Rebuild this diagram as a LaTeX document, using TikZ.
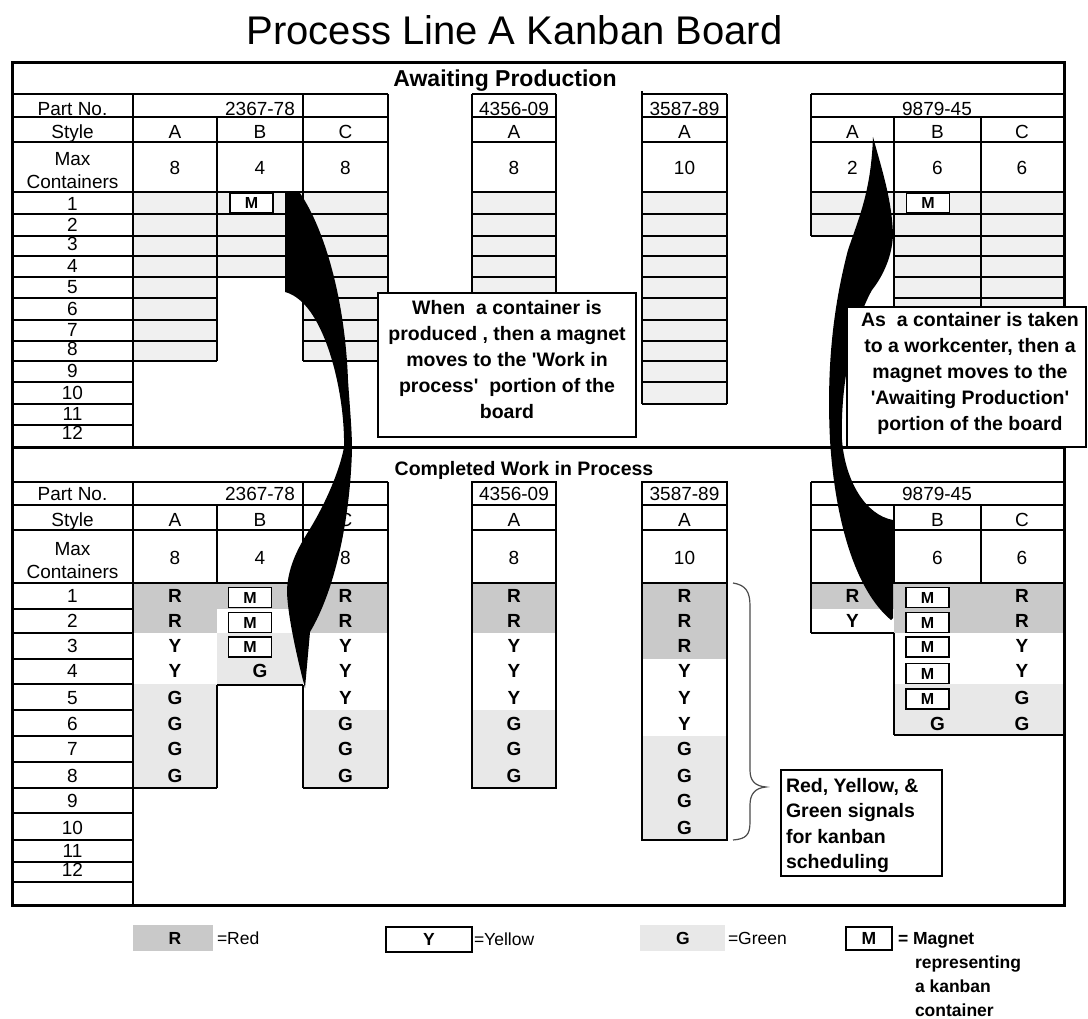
\documentclass[tikz,border=0pt]{standalone}
\usepackage{fontspec}
\setmainfont{Liberation Sans}
\definecolor{redsig}{gray}{0.79}
\definecolor{greensig}{gray}{0.91}
\definecolor{topcell}{gray}{0.94}
\newcommand\myfs[1]{\fontsize{#1}{#1}\selectfont}
\begin{document}
\begin{tikzpicture}[x=1pt,y=-1pt,
  every node/.style={inner sep=0pt,outer sep=0pt},
  lbl/.style={font=\myfs{19}, text height=13.6pt, text depth=0pt},
  sig/.style={font=\bfseries\myfs{19}, text height=13.6pt, text depth=0pt},
  mag/.style={draw,line width=1.6pt,fill=white,minimum width=43pt,minimum height=20pt,font=\bfseries\myfs{16},text height=11.4pt,text depth=0pt},
  gridl/.style={line width=1.3pt},
  framel/.style={line width=3pt},
  notebox/.style={draw,line width=1.5pt,fill=white},
  notetext/.style={font=\bfseries\fontsize{19.5}{26}\selectfont, align=center},
  legtext/.style={font=\myfs{17.5}, anchor=west, text height=12.5pt, text depth=0pt},
  legbold/.style={font=\bfseries\myfs{17.5}, anchor=west, text height=12.5pt, text depth=0pt},
  bigarrow/.style={fill=black},
  bracel/.style={line width=1.2pt, black!70},
]
\useasboundingbox (0,0) rectangle (1088,1019);

% ---------- title
\node[font=\myfs{40}, text height=28.6pt, text depth=0pt] (title) at (514.5,30) {Process Line A Kanban Board};

% ---------- fills: top section
\fill[topcell] (133,192) rectangle (217,361);
\fill[topcell] (217,192) rectangle (303,277);
\fill[topcell] (303,192) rectangle (388,361);
\fill[topcell] (472,192) rectangle (556,361);
\fill[topcell] (642,192) rectangle (727,404);
\fill[topcell] (811,192) rectangle (894,236);
\fill[topcell] (894,192) rectangle (1063,320);

% ---------- fills: bottom section
\fill[redsig] (133,583) rectangle (217,633);
\fill[greensig] (133,684) rectangle (217,788);
\fill[redsig] (217,583) rectangle (303,609);
\fill[greensig] (217,633) rectangle (303,685);
\fill[redsig] (303,583) rectangle (388,633);
\fill[greensig] (303,710) rectangle (388,788);
\fill[redsig] (472,583) rectangle (556,633);
\fill[greensig] (472,710) rectangle (556,788);
\fill[redsig] (642,583) rectangle (727,659);
\fill[greensig] (642,736) rectangle (727,840);
\fill[redsig] (811,583) rectangle (894,609);
\fill[redsig] (894,583) rectangle (1063,633);
\fill[greensig] (894,684) rectangle (1063,735);

% ---------- grid: top section
\foreach \y in {94,117,142,192,214,236,256,277,298,320,341,361,382,404,425}
  \draw[gridl] (12,\y) -- (133,\y);
\draw[gridl] (133,94) -- (133,447);
\foreach \y in {94,117,142,192} \draw[gridl] (133,\y) -- (388,\y);
\foreach \y in {214,236,256,277,298,320,341,361} {
  \draw[gridl] (133,\y) -- (217,\y);
  \draw[gridl] (303,\y) -- (388,\y);
}
\foreach \y in {214,236,256,277} \draw[gridl] (217,\y) -- (303,\y);
\draw[gridl] (217,117) -- (217,361) (303,94) -- (303,361) (388,94) -- (388,361);
\foreach \y in {94,117,142,192,214,236,256,277,298,320,341,361}
  \draw[gridl] (472,\y) -- (556,\y);
\draw[gridl] (472,94) -- (472,361) (556,94) -- (556,361);
\foreach \y in {94,117,142,192,214,236,256,277,298,320,341,361,382,404}
  \draw[gridl] (642,\y) -- (727,\y);
\draw[gridl] (642,91) -- (642,404) (727,94) -- (727,404);
\foreach \y in {94,117,142,192,214,236} \draw[gridl] (811,\y) -- (1063,\y);
\foreach \y in {256,277,298,320} \draw[gridl] (894,\y) -- (1063,\y);
\draw[gridl] (811,94) -- (811,236) (894,117) -- (894,320) (981,117) -- (981,320);

% ---------- grid: bottom section
\foreach \y in {482,505,530,583,609,633,659,684,710,736,762,788,813,840,862,882}
  \draw[gridl] (12,\y) -- (133,\y);
\draw[gridl] (133,482) -- (133,905);
\foreach \y in {482,505,530,583} \draw[gridl] (133,\y) -- (388,\y);
\draw[gridl] (133,788) -- (217,788) (217,685) -- (303,685) (303,788) -- (388,788);
\draw[gridl] (217,505) -- (217,583) (217,685) -- (217,788)
  (303,482) -- (303,583) (303,685) -- (303,788) (388,482) -- (388,788);
\draw[gridl] (472,482) rectangle (556,788);
\foreach \y in {505,530,583} \draw[gridl] (472,\y) -- (556,\y);
\draw[gridl] (642,482) rectangle (727,840);
\foreach \y in {505,530,583} \draw[gridl] (642,\y) -- (727,\y);
\foreach \y in {482,505,530,583} \draw[gridl] (811,\y) -- (1063,\y);
\draw[gridl] (811,633) -- (894,633) (894,735) -- (1063,735)
  (811,482) -- (811,633) (894,505) -- (894,583) (894,633) -- (894,735) (981,505) -- (981,583);

% ---------- frame
\draw[framel] (12,63) rectangle (1064,905);
\draw[framel] (12,447) -- (1064,447);

% ---------- section headings
\node[font=\bfseries\myfs{23}, text height=16.5pt, text depth=0pt] (hdrA) at (505,78) {Awaiting Production};
\node[font=\bfseries\myfs{19.5}, text height=14pt, text depth=0pt] (hdrC) at (524,468) {Completed Work in Process};

% ---------- label column, top
\node[lbl] (tPart) at (72.5,108.5) {Part No.};
\node[lbl] (tStyle) at (72.5,131.5) {Style};
\node[lbl] (tMax) at (72.5,158.5) {Max};
\node[lbl] (tCont) at (72.5,181.5) {Containers};
\foreach \y [count=\i] in {203.5,225,244,265.5,286.5,308.5,330,349,371,392.5,414,433}
  \node[lbl] (tRow\i) at (72.5,\y) {\i};

% ---------- label column, bottom
\node[lbl] (bPart) at (72.5,493.5) {Part No.};
\node[lbl] (bStyle) at (72.5,520) {Style};
\node[lbl] (bMax) at (72.5,548.5) {Max};
\node[lbl] (bCont) at (72.5,571.5) {Containers};
\foreach \y [count=\i] in {596,621,646,671,697.5,724,749,776,801,827.5,851,870}
  \node[lbl] (bRow\i) at (72.5,\y) {\i};

% ---------- headers of part columns (top and bottom)
\foreach \s/\y/\v in {t/108.5/131.5, b/493.5/520} {
  \node[lbl] (\s P1) at (260,\y) {2367-78};
  \node[lbl] (\s P2) at (514,\y) {4356-09};
  \node[lbl] (\s P3) at (684.5,\y) {3587-89};
  \node[lbl] (\s P4) at (937,\y) {9879-45};
  \node[lbl] (\s SA) at (175,\v) {A};
  \node[lbl] (\s SB) at (260,\v) {B};
  \node[lbl] (\s SC) at (345.5,\v) {C};
  \node[lbl] (\s SD) at (514,\v) {A};
  \node[lbl] (\s SE) at (684.5,\v) {A};
  \node[lbl] (\s SG) at (937.5,\v) {B};
  \node[lbl] (\s SH) at (1022,\v) {C};
}
\node[lbl] (tSF) at (852.5,131.5) {A};
\foreach \s/\y in {t/167.5, b/557.5} {
  \node[lbl] (\s MA) at (175,\y) {8};
  \node[lbl] (\s MB) at (260,\y) {4};
  \node[lbl] (\s MC) at (345.5,\y) {8};
  \node[lbl] (\s MD) at (514,\y) {8};
  \node[lbl] (\s ME) at (684.5,\y) {10};
  \node[lbl] (\s MG) at (937.5,\y) {6};
  \node[lbl] (\s MH) at (1022,\y) {6};
}
\node[lbl] (tMF) at (852.5,167.5) {2};

% ---------- signals, bottom section
\foreach \s/\y [count=\i] in {R/596,R/621,Y/646,Y/671,G/697.5,G/724,G/749,G/776}
  \node[sig] (sA\i) at (175,\y) {\s};
\node[sig] (sB4) at (260,671) {G};
\foreach \s/\y [count=\i] in {R/596,R/621,Y/646,Y/671,Y/697.5,G/724,G/749,G/776} {
  \node[sig] (sC\i) at (345.5,\y) {\s};
  \node[sig] (sD\i) at (514,\y) {\s};
}
\foreach \s/\y [count=\i] in {R/596,R/621,R/646,Y/671,Y/697.5,Y/724,G/749,G/776,G/801,G/827.5}
  \node[sig] (sE\i) at (684.5,\y) {\s};
\node[sig] (sF1) at (852.5,596) {R};
\node[sig] (sF2) at (852.5,621) {Y};
\foreach \s/\y [count=\i] in {R/596,R/621,Y/646,Y/671,G/697.5,G/724}
  \node[sig] (sH\i) at (1022,\y) {\s};
\node[sig] (sG6) at (937.5,724) {G};

% ---------- magnets
\node[mag] (mT1) at (251.5,203) {M};
\node[mag] (mT2) at (928,203) {M};
\foreach \y [count=\i] in {597.5,622.5,647}
  \node[mag] (mB\i) at (250,\y) {M};
\foreach \y [count=\i] in {597.5,622.5,647,673.5,699}
  \node[mag] (mG\i) at (927.5,\y) {M};

% ---------- bracket
\draw[bracel] (733,583) .. controls (746,585) and (750,592) .. (750,606) -- (750,770)
  .. controls (750,781) and (755,786) .. (766,787)
  .. controls (755,788) and (750,794) .. (750,805) -- (750,822)
  .. controls (750,835) and (746,839) .. (733,840);

% ---------- big curved arrows
\fill[bigarrow] (285,193) -- (300,193)
  .. controls (325,230) and (345,300) .. (348,380)
  .. controls (350,410) and (352,430) .. (352,450)
  .. controls (350,520) and (335,590) .. (310,632)
  -- (305,688)
  .. controls (295,650) and (287,610) .. (287,590)
  .. controls (288,565) and (300,545) .. (308,532)
  .. controls (325,505) and (340,470) .. (344,447)
  .. controls (345,400) and (330,330) .. (303,303)
  .. controls (297,297) and (290,293) .. (285,292)
  -- cycle;
\fill[bigarrow] (873,137)
  .. controls (882,170) and (892,200) .. (893,235)
  .. controls (892,260) and (880,280) .. (872,290)
  .. controls (855,320) and (840,380) .. (842,440)
  .. controls (845,480) and (865,515) .. (893,520)
  -- (893,618) -- (891,620)
  .. controls (855,590) and (835,520) .. (830,440)
  .. controls (826,360) and (835,300) .. (848,250)
  .. controls (860,215) and (871,190) .. (873,137)
  -- cycle;

% ---------- notes
\node[notebox, minimum width=258pt, minimum height=144pt] (box1) at (507,365) {};
\node[notetext] (box1t) at (507,360) {When\ \ a container is\\produced , then a magnet\\moves to the \textquotesingle Work in\\process\textquotesingle\ \ portion of the\\board};
\node[notebox, minimum width=239pt, minimum height=140pt] (box2) at (966.5,377) {};
\node[notetext] (box2t) at (970,373) {As\ \ a container is taken\\to a workcenter, then a\\magnet moves to the\\\textquotesingle Awaiting Production\textquotesingle\\portion of the board};
\node[notebox, minimum width=161pt, minimum height=106pt] (box3) at (861.5,823) {};
\node[font=\bfseries\fontsize{19.5}{25.5}\selectfont, align=left, anchor=west] (box3t) at (786,825.5) {Red, Yellow, \&\\Green signals\\for kanban\\scheduling};

% ---------- legend
\fill[redsig] (133,925) rectangle (213,951);
\node[legbold, anchor=center] (legR) at (175,938) {R};
\node[legtext] (legRt) at (217,938) {=Red};
\node[draw, line width=1.3pt, minimum width=86pt, minimum height=25pt, font=\bfseries\myfs{17.5}, text height=12.5pt, text depth=0pt] (legY) at (429,939.5) {Y};
\node[legtext] (legYt) at (474,939) {=Yellow};
\fill[greensig] (640,925) rectangle (725,951);
\node[legbold, anchor=center] (legG) at (683,938) {G};
\node[legtext] (legGt) at (728,938) {=Green};
\node[mag, minimum width=46pt, minimum height=23pt, font=\bfseries\myfs{17.5}, text height=12.5pt] (legM) at (869,938.5) {M};
\node[legbold] (legM1) at (898,938) {= Magnet};
\node[legbold] (legM2) at (915,962) {representing};
\node[legbold] (legM3) at (915,986) {a kanban};
\node[legbold] (legM4) at (915,1010) {container};
\end{tikzpicture}
\end{document}
